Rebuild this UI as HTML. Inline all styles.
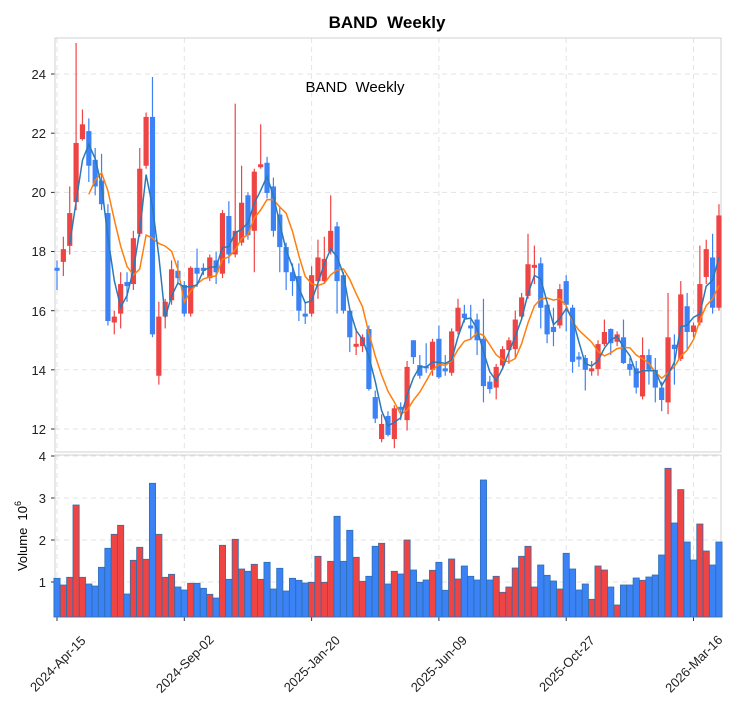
<!DOCTYPE html>
<html><head><meta charset="utf-8"><style>
html,body{margin:0;padding:0;background:#fff;}
svg{display:block;font-family:"Liberation Sans",sans-serif;}
</style></head><body>
<svg id="s" width="741" height="712" viewBox="0 0 741 712" xmlns="http://www.w3.org/2000/svg">
<rect width="741" height="712" fill="#fff"/>
<text x="387" y="28" font-size="17" font-weight="bold" text-anchor="middle">BAND&#160; Weekly</text>
<g id="grid"></g>
<rect x="55" y="38" width="666" height="414" fill="none" stroke="#d0d0d0" stroke-width="1"/>
<rect x="55" y="455" width="666" height="162" fill="none" stroke="#d0d0d0" stroke-width="1"/>
<g id="vol"></g>
<g id="cand"></g>
<g id="ma"></g>
<text x="355" y="92" font-size="15" text-anchor="middle">BAND&#160; Weekly</text>
<g font-size="13" text-anchor="end" fill="#222">
<text x="46" y="79">24</text><text x="46" y="138">22</text><text x="46" y="197">20</text>
<text x="46" y="256">18</text><text x="46" y="316">16</text><text x="46" y="375">14</text><text x="46" y="434">12</text>
<text x="46" y="461">4</text><text x="46" y="503">3</text><text x="46" y="545">2</text><text x="46" y="587">1</text>
</g>
<text transform="translate(27,536) rotate(-90)" font-size="13" text-anchor="middle">Volume&#160; 10<tspan font-size="9" dy="-6">6</tspan></text>
<g font-size="13" text-anchor="middle" fill="#222">
<text transform="translate(61,667) rotate(-45)">2024-Apr-15</text>
<text transform="translate(188,667) rotate(-45)">2024-Sep-02</text>
<text transform="translate(315,667) rotate(-45)">2025-Jan-20</text>
<text transform="translate(442,667) rotate(-45)">2025-Jun-09</text>
<text transform="translate(570,667) rotate(-45)">2025-Oct-27</text>
<text transform="translate(697,667) rotate(-45)">2026-Mar-16</text>
</g>
</svg>
<script>
var C=[[17.45,17.35,17.7,16.7,0],[18.08,17.65,18.5,17.17,1],[19.3,18.19,20.2,17.9,1],[21.67,19.67,25.05,19.4,1],[22.3,21.8,22.8,21.75,1],[22.07,20.9,22.5,20.35,0],[21.1,20.2,21.5,19.9,0],[20.4,19.6,21.3,19.4,0],[19.3,15.65,19.6,15.5,0],[15.8,15.6,16.0,15.2,1],
[16.9,15.9,17.3,15.4,1],[16.97,16.83,17.3,16.3,0],[18.45,16.9,18.7,16.7,1],[20.8,18.6,21.5,18.5,1],[22.55,20.9,22.7,20.8,1],[22.55,15.2,23.9,15.1,0],[15.8,13.8,16.3,13.5,1],[16.3,15.8,16.4,15.4,1],[17.4,16.35,17.7,16.2,1],[17.35,17.1,17.7,16.9,0],
[16.87,15.9,17.0,15.8,0],[17.45,15.9,17.5,15.8,1],[17.45,17.25,18.1,16.8,0],[17.45,17.35,17.6,17.2,0],[17.8,17.1,17.9,17.0,1],[17.7,17.3,18.0,16.9,0],[19.3,17.25,19.4,17.1,1],[19.2,17.9,19.7,17.6,0],[18.7,17.9,23.0,17.8,1],[19.65,18.3,20.9,18.2,1],
[19.9,18.55,20.0,18.4,0],[20.7,18.7,20.8,17.3,1],[20.95,20.85,22.3,20.8,1],[21.0,19.98,21.2,19.8,0],[20.2,18.7,20.5,18.5,0],[19.25,18.15,19.5,17.3,0],[18.15,17.3,18.3,16.7,0],[17.3,17.0,17.6,16.5,0],[17.17,16.0,17.6,15.65,0],[15.9,15.8,16.3,15.55,0],
[17.2,15.9,17.5,15.8,1],[17.8,17.0,18.4,16.4,1],[17.75,17.0,18.5,16.9,1],[18.7,18.0,19.9,17.9,1],[18.85,17.0,19.0,15.9,0],[17.2,16.0,17.3,15.9,0],[16.0,15.1,16.1,14.6,0],[14.88,14.78,15.4,14.5,1],[15.1,14.8,15.2,14.6,1],[15.38,13.35,15.5,13.3,0],
[13.08,12.35,13.3,12.2,0],[12.17,11.66,12.5,11.55,1],[12.44,11.8,12.6,11.75,0],[12.7,11.66,12.8,11.35,1],[12.75,12.65,12.9,12.3,0],[14.1,12.3,14.3,11.95,1],[15.0,14.43,15.0,14.2,0],[14.16,13.8,14.5,13.7,0],[14.12,14.05,14.9,13.9,0],[14.95,14.0,15.05,13.8,1],
[15.05,13.75,15.5,13.7,0],[14.05,13.95,14.5,13.8,0],[15.3,13.9,15.4,13.8,1],[16.1,15.3,16.4,15.2,1],[15.9,15.75,16.2,15.6,0],[15.5,15.4,16.2,15.0,0],[15.7,15.0,15.9,14.5,0],[15.05,13.45,16.4,12.9,0],[13.6,13.35,13.8,13.2,0],[14.1,13.4,14.2,13.0,1],
[14.7,14.15,14.8,14.0,1],[15.0,14.67,15.1,14.2,1],[15.7,14.7,16.0,14.4,1],[16.45,15.8,16.6,15.7,1],[17.57,16.5,18.6,16.4,1],[17.55,17.45,18.2,16.9,1],[17.6,16.1,17.8,15.4,0],[16.2,15.2,16.3,14.9,0],[15.45,15.28,16.1,14.8,0],[16.73,15.5,16.9,15.4,1],
[17.0,16.2,17.2,15.3,0],[16.1,14.27,16.2,13.9,0],[14.45,14.35,14.6,14.1,0],[14.4,14.0,14.5,13.3,0],[14.05,13.95,14.3,13.8,1],[14.87,14.03,15.0,13.8,1],[15.28,14.87,15.7,14.8,1],[15.38,14.9,15.4,14.5,0],[15.2,14.95,15.3,14.8,1],[15.1,14.23,15.7,14.2,0],
[14.2,14.0,14.4,13.8,0],[14.05,13.4,14.3,13.2,0],[14.5,13.1,15.1,13.0,1],[14.5,14.0,14.7,13.5,0],[14.0,13.4,14.4,12.9,0],[13.4,12.98,13.6,12.6,0],[15.1,12.9,16.6,12.5,1],[14.85,14.7,15.2,13.5,0],[16.55,14.37,17.0,14.3,1],[16.15,15.28,16.6,14.7,0],
[15.5,15.28,15.6,15.1,1],[16.9,15.6,18.2,15.5,1],[18.08,17.14,18.4,16.9,1],[17.8,16.1,18.6,15.9,0],[19.22,16.1,19.6,16.0,1]];
var V=[578.3,585,577.3,505,577.3,584,586,567.3,548.3,534.3,525.3,594,560.3,547.3,559.3,483.3,534.3,577.3,574.3,587,590,583.3,583.3,588.3,594.3,598,545.3,579.3,539.3,569,571.3,564.3,579.3,562.3,589,568.3,591,578.3,580.3,583,582.3,556.3,582.3,561.3,516.3,561.3,530.3,557.3,581.3,576.3,546.3,543.3,584,
571.3,574,540,570,582.3,580,570.3,562.3,590.3,559,579,566,576.3,580,480,580,576.3,592.3,587,568,556.3,546.3,587,565,575.3,581,589,553.3,569,590,584,599.3,566,570,587,605,585,585,578,580.3,577,575,555,468.3,523,489.6,542,560,524,551,565,542];
var VC={99:0,100:0,101:1,102:1,103:0,104:0};
var NS="http://www.w3.org/2000/svg";
function el(t,a,p){var e=document.createElementNS(NS,t);for(var k in a)e.setAttribute(k,a[k]);document.getElementById(p).appendChild(e);return e;}
function X(i){return 57+6.365*i;}
function Y(p){return 429-(p-12)*29.58;}
var R="#ef4444",B="#3b82f6";
[74,133.2,192.4,251.5,310.7,369.8,429].forEach(function(y){el('line',{x1:55,x2:721,y1:y,y2:y,stroke:'#e3e3e3','stroke-dasharray':'5,4'},'grid');});
[456,498,540,582].forEach(function(y){el('line',{x1:55,x2:721,y1:y,y2:y,stroke:'#e3e3e3','stroke-dasharray':'5,4'},'grid');});
[0,20,40,60,80,100].forEach(function(i){var x=X(i);el('line',{x1:x,x2:x,y1:38,y2:452,stroke:'#e3e3e3','stroke-dasharray':'5,4'},'grid');el('line',{x1:x,x2:x,y1:455,y2:617,stroke:'#e3e3e3','stroke-dasharray':'5,4'},'grid');el('line',{x1:x,x2:x,y1:617,y2:621,stroke:'#333'},'grid');});
[74,133.2,192.4,251.5,310.7,369.8,429,456,498,540,582].forEach(function(y){el('line',{x1:51,x2:55,y1:y,y2:y,stroke:'#333'},'grid');});
el('line',{x1:55,x2:55,y1:38,y2:452,stroke:'#999'},'grid');el('line',{x1:55,x2:55,y1:455,y2:617,stroke:'#999'},'grid');el('line',{x1:55,x2:721,y1:617,y2:617,stroke:'#999'},'grid');
C.forEach(function(c,i){var x=X(i);var up=(i in VC)?VC[i]:c[4];el('rect',{x:x-3.1,y:V[i],width:6.2,height:617-V[i],fill:up?R:B,stroke:'#2f6fb0','stroke-width':0.8},'vol');});
C.forEach(function(c,i){var x=X(i),col=c[4]?R:B;
el('line',{x1:x,x2:x,y1:Y(c[2]),y2:Y(c[3]),stroke:col,'stroke-width':1.2},'cand');
var t=Y(c[0]),b=Y(c[1]);if(b-t<2){t-=1;b+=1;}
el('rect',{x:x-2.6,y:t,width:5.2,height:b-t,fill:col},'cand');});
var cl=C.map(function(c){return c[4]?c[0]:c[1];});
function ma(n,col){var pts=[];for(var i=n-1;i<cl.length;i++){var s=0;for(var j=0;j<n;j++)s+=cl[i-j];pts.push(X(i).toFixed(1)+','+Y(s/n).toFixed(1));}
el('polyline',{points:pts.join(' '),fill:'none',stroke:col,'stroke-width':1.5},'ma');}
ma(6,'#ff7f0e');ma(3,'#2a7ab8');
</script>
</body></html>
